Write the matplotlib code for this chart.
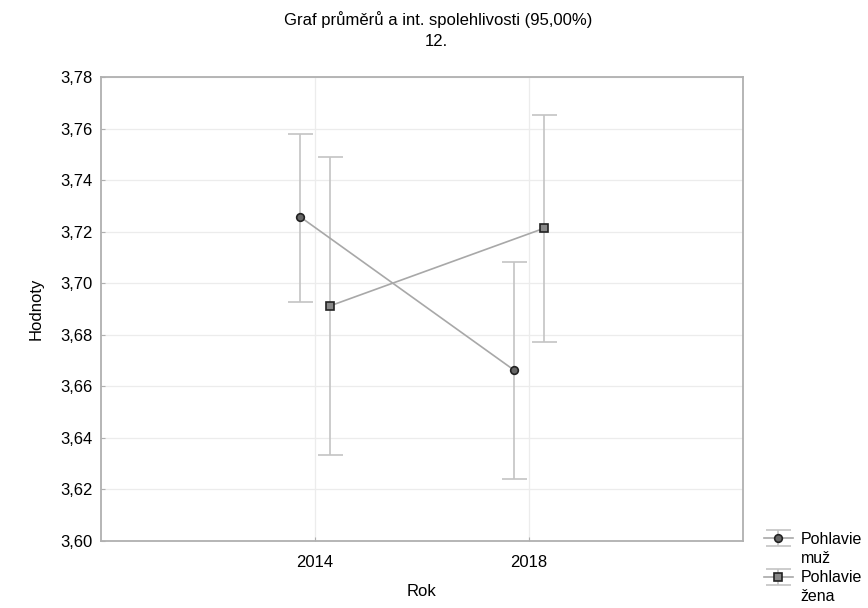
import numpy as np
from matplotlib import pyplot as plt
from matplotlib.lines import Line2D
from matplotlib.ticker import FuncFormatter

plt.rcParams['font.family'] = ['Liberation Sans', 'DejaVu Sans']

# data
years = ['2014', '2018']
muz_mean = [3.7258, 3.6663]
muz_low = [3.6928, 3.6240]
muz_high = [3.7579, 3.7081]
zena_mean = [3.6912, 3.7213]
zena_low = [3.6334, 3.6773]
zena_high = [3.7488, 3.7653]

fig = plt.figure(figsize=(8.68, 6.08), dpi=100)
ax = fig.add_axes([101 / 868, 1 - 541 / 608, 642 / 868, 464 / 608])

x = np.arange(len(years))
shift = 0.07
line_col = '#a8a8a8'
bar_col = '#c4c4c4'

series = [
    ('muž', muz_mean, muz_low, muz_high, -shift, 'o', '#666666'),
    ('žena', zena_mean, zena_low, zena_high, shift, 's', '#888888'),
]
handles = []
labels = []
blank = Line2D([], [], linestyle='none', marker=None)
for name, mean, low, high, dx, mk, fc in series:
    mean = np.array(mean)
    err = [mean - np.array(low), np.array(high) - mean]
    h = ax.errorbar(x + dx, mean, yerr=err, fmt='-', color=line_col, lw=1.2,
                    ecolor=bar_col, elinewidth=1.2, capsize=9, capthick=1.2,
                    marker=mk, ms=5.5, mfc=fc, mec='#222222', mew=1.2)
    handles += [h, blank]
    labels += ['Pohlavie', name]

ax.set_xlim(-1, 2)
ax.set_ylim(3.60, 3.78)
ax.set_xticks(x)
ax.set_xticklabels(years)
ax.set_yticks(np.arange(3.60, 3.7801, 0.02))
ax.yaxis.set_major_formatter(FuncFormatter(lambda v, p: f'{v:.2f}'.replace('.', ',')))
ax.grid(True, color='#ececec', lw=0.9)
ax.set_axisbelow(True)
for s in ax.spines.values():
    s.set_color('#b0b0b0')
    s.set_linewidth(1.3)
ax.tick_params(direction='in', length=3, color='#b0b0b0', labelsize=12)
ax.tick_params(axis='x', pad=10)
ax.tick_params(axis='y', pad=6)

ax.set_xlabel('Rok', fontsize=12, labelpad=10)
ax.set_ylabel('Hodnoty', fontsize=12, labelpad=12)

fig.text(0.505, 1 - 20 / 608, 'Graf průměrů a int. spolehlivosti (95,00%)',
         ha='center', va='center', fontsize=12)
fig.text(0.503, 1 - 42 / 608, '12.', ha='center', va='center', fontsize=12)

ax.legend(handles, labels, loc='upper left', bbox_to_anchor=(764 / 868, 1 - 532 / 608),
          bbox_transform=fig.transFigure, frameon=False,
          fontsize=11.5, handlelength=1.8, labelspacing=0.26, borderaxespad=0,
          borderpad=0, handletextpad=0.5)

fig.savefig('out.png', dpi=100)
